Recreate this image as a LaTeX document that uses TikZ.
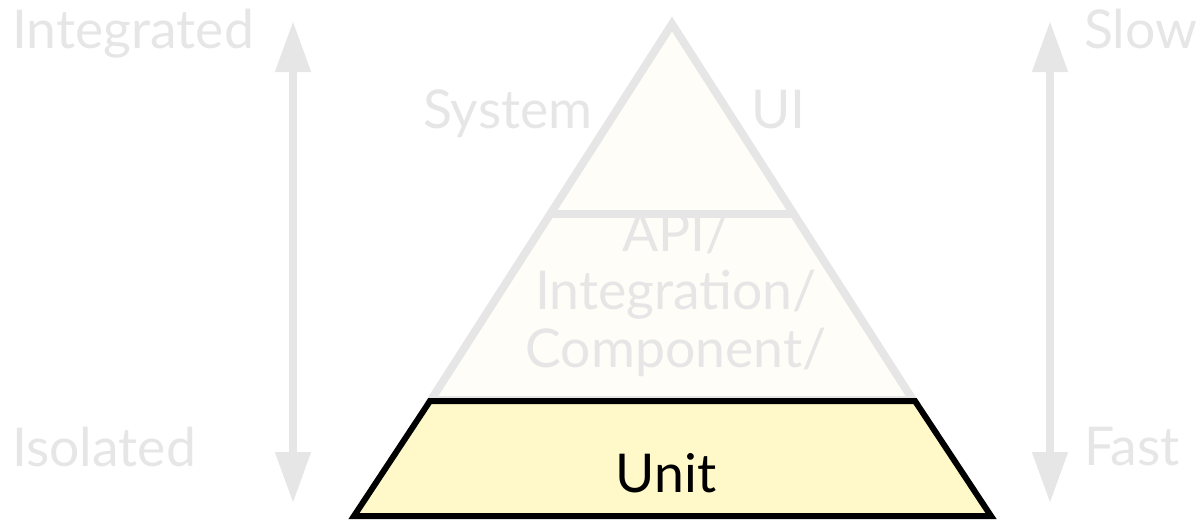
\documentclass[tikz,border=0pt]{standalone}
\usepackage{fontspec}
\setmainfont{Lato}
\usetikzlibrary{arrows.meta}
\definecolor{lightgrey}{HTML}{E6E6E6}
\definecolor{paleyellow}{HTML}{FEFDF7}
\definecolor{unityellow}{HTML}{FFF9CA}
\tikzset{
  greytext/.style={inner sep=0pt, anchor=base west, text=lightgrey, font=\fontsize{53.5}{60}\selectfont},
  midtext/.style={greytext, anchor=base},
  scalearrow/.style={draw=lightgrey, line width=8pt,
    {Triangle[length=51pt, width=34pt]}-{Triangle[length=51pt, width=34pt]}},
  layer/.style={draw=lightgrey, line width=8pt, line join=miter},
  unitbox/.style={draw=black, fill=unityellow, line width=6pt, line join=miter}
}
\begin{document}
\begin{tikzpicture}[x=1pt, y=-1pt]
  \useasboundingbox (0,0) rectangle (1202,520);

  % pyramid outline and the dividing line of its top tier
  \coordinate (apex) at (672,24);
  \coordinate (baseL) at (431,400);
  \coordinate (baseR) at (913,400);
  \coordinate (divL) at (550,214);
  \coordinate (divR) at (794,214);
  \draw[layer, fill=paleyellow] (apex) -- (baseR) -- (baseL) -- cycle;
  \draw[layer] (divL) -- (divR);

  % bottom tier
  \coordinate (unitTL) at (430,401);
  \coordinate (unitTR) at (915,401);
  \coordinate (unitBR) at (991,516);
  \coordinate (unitBL) at (354,516);
  \draw[unitbox] (unitTL) -- (unitTR) -- (unitBR) -- (unitBL) -- cycle;

  % tier labels
  \node[greytext] (system) at (423,128) {System};
  \node[greytext] (ui) at (751,128) {UI};
  \node[midtext] (api1) at (676,251) {API/};
  \node[midtext] (api2) at (676,309) {Integration/};
  \node[midtext] (api3) at (676,367) {Component/};
  \node[midtext, text=black] (unit) at (666,492) {Unit};

  % side scales
  \node[greytext] (integrated) at (12,48) {Integrated};
  \node[greytext] (isolated) at (12,466) {Isolated};
  \node[greytext] (slow) at (1084,48) {Slow};
  \node[greytext] (fast) at (1084,465) {Fast};

  \coordinate (leftTop) at (293,21);
  \coordinate (leftBot) at (293,503);
  \coordinate (rightTop) at (1050,21);
  \coordinate (rightBot) at (1050,503);
  \draw[scalearrow] (leftTop) -- (leftBot);
  \draw[scalearrow] (rightTop) -- (rightBot);
\end{tikzpicture}
\end{document}
